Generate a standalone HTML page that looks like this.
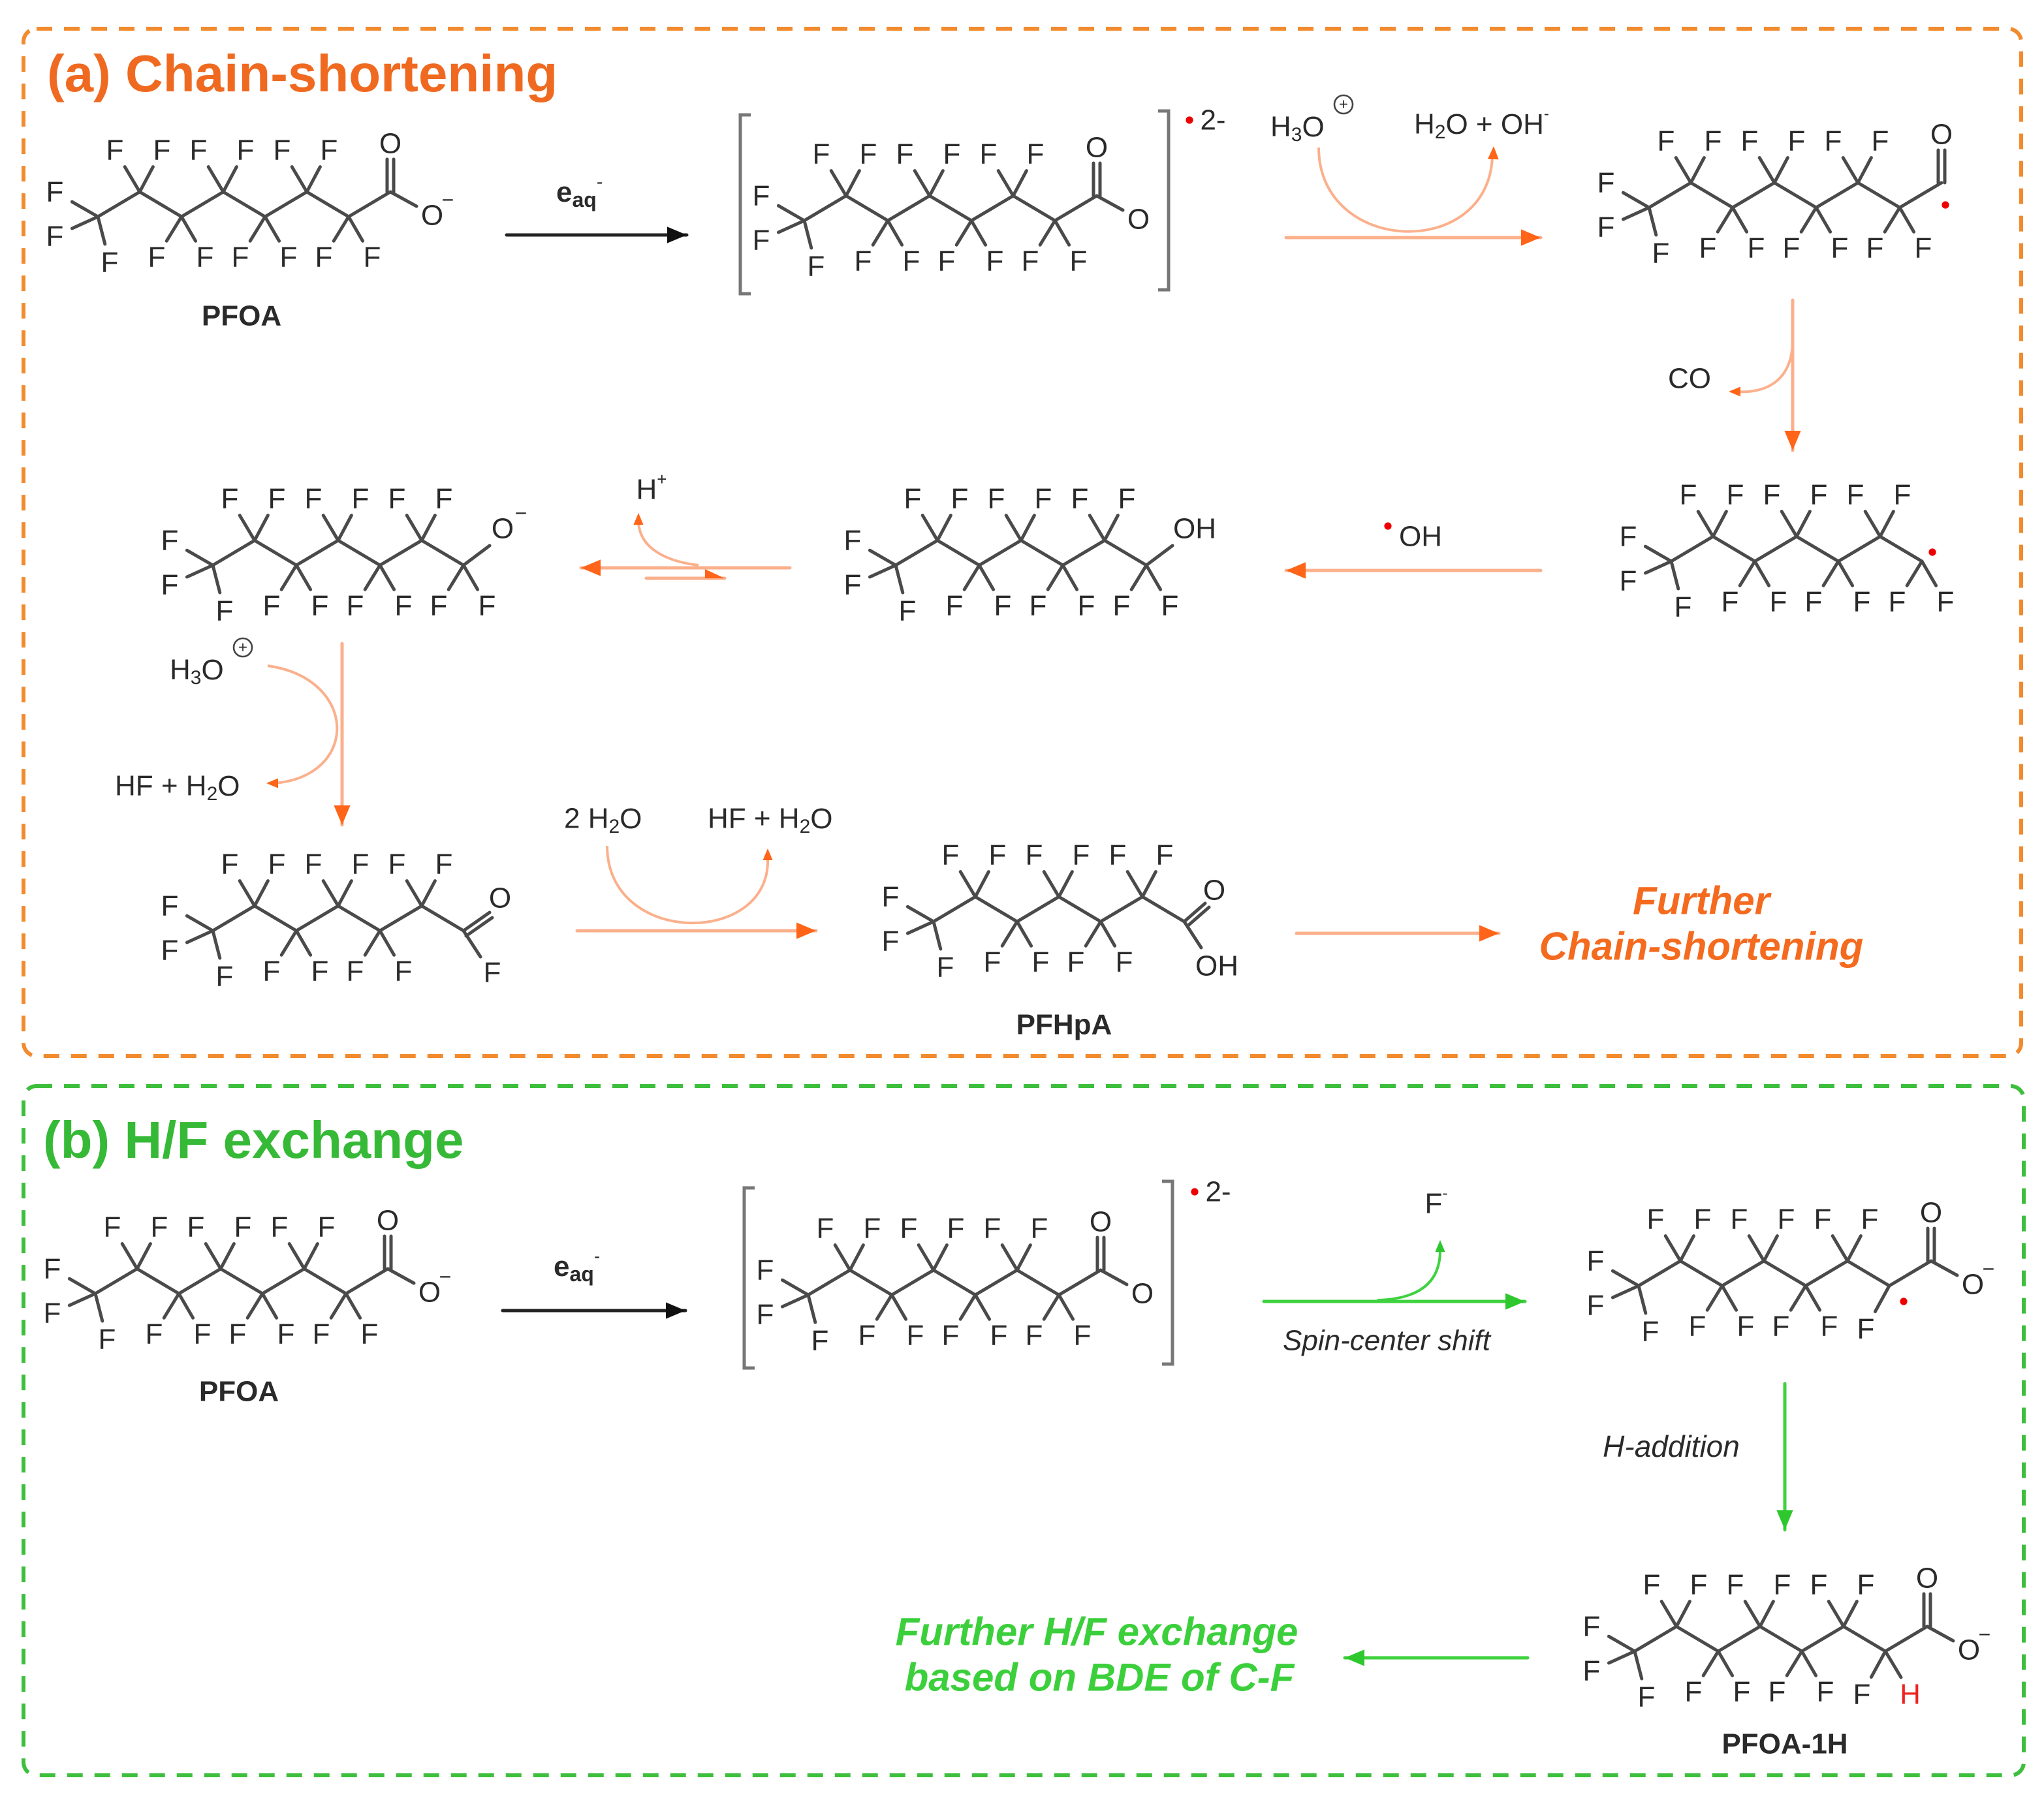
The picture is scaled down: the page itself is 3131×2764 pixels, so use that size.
<!DOCTYPE html>
<html><head><meta charset="utf-8">
<style>
html,body{margin:0;padding:0;background:#fff;}
svg{display:block;}
text{font-family:"Liberation Sans",sans-serif;}
</style></head>
<body>
<svg id="s" xmlns="http://www.w3.org/2000/svg" width="3131" height="2764" viewBox="0 0 1565.5 1382">
<rect width="1565.5" height="1382" fill="#fff"/>
<rect x="18" y="22" width="1530" height="787" rx="10" fill="none" stroke="#f28a2e" stroke-width="3" stroke-dasharray="12,9"/>
<rect x="18" y="832" width="1532" height="528" rx="10" fill="none" stroke="#3dbf3d" stroke-width="3" stroke-dasharray="12,9"/>
<text x="36" y="70" font-size="40" font-weight="bold" fill="#ef6a20">(a) Chain-shortening</text>
<text x="33" y="887" font-size="40" font-weight="bold" fill="#36b936">(b) H/F exchange</text>
</svg>
<script>
var S=document.getElementById('s'),NS='http://www.w3.org/2000/svg';
var BC='#4a4a4a',TC='#2a2a2a';
function el(t,a,txt){var e=document.createElementNS(NS,t);for(var k in a)e.setAttribute(k,a[k]);if(txt!==undefined)e.textContent=txt;S.appendChild(e);return e;}
function ln(x1,y1,x2,y2,c,w){el('line',{x1:x1,y1:y1,x2:x2,y2:y2,stroke:c||BC,'stroke-width':w||2.5,'stroke-linecap':'round'});}
function tx(x,y,s,o){o=o||{};var e=el('text',{x:x,y:y,'font-size':o.fs||22,fill:o.c||TC,'text-anchor':o.a||'middle','dominant-baseline':'central','font-weight':o.b?'bold':'normal','font-style':o.i?'italic':'normal'});e.innerHTML=s;return e;}
function lab(cx,cy,dx,dy,s,c){ln(cx,cy,cx+dx*0.6,cy+dy*0.6);tx(cx+dx,cy+dy,s||'F',{c:c});}
function chain(ax,ay,n){var c=[];for(var i=0;i<=n;i++){c.push([ax+32*i,i%2?ay-19:ay]);}
 for(i=0;i<n;i++)ln(c[i][0],c[i][1],c[i+1][0],c[i+1][1]);
 lab(c[0][0],c[0][1],-33,-19);lab(c[0][0],c[0][1],-33,15);lab(c[0][0],c[0][1],9,35);
 for(i=1;i<=n;i++){if(i%2){lab(c[i][0],c[i][1],-19,-32);lab(c[i][0],c[i][1],17,-32);}else{lab(c[i][0],c[i][1],-19,31);lab(c[i][0],c[i][1],18,31);}}
 return c;}
function carbox(p,q,minus){
 ln(p[0],p[1],q[0],q[1]);
 ln(q[0]-2.5,q[1],q[0]-2.5,q[1]-25);ln(q[0]+2.5,q[1],q[0]+2.5,q[1]-25);
 tx(q[0],q[1]-37,'O');
 ln(q[0],q[1],q[0]+20,q[1]+11);tx(q[0]+32,q[1]+18,'O');
 if(minus)tx(q[0]+44,q[1]+6,'−',{fs:16});}
function dot(x,y){el('circle',{cx:x,cy:y,r:2.8,fill:'#e00'});}
function head(x,y,ang,c,sz){sz=sz||15;var a=ang*Math.PI/180,w=sz*0.42;
 var bx=x-sz*Math.cos(a),by=y-sz*Math.sin(a),px=-Math.sin(a)*w,py=Math.cos(a)*w;
 el('polygon',{points:x+','+y+' '+(bx+px)+','+(by+py)+' '+(bx-px)+','+(by-py),fill:c});}
function arr(x1,y1,x2,y2,lc,hc,w){ln(x1,y1,x2,y2,lc,w||2.5);head(x2,y2,Math.atan2(y2-y1,x2-x1)*180/Math.PI,hc);}
function path(d,c,w){el('path',{d:d,fill:'none',stroke:c,'stroke-width':w||2.2});}
var OL='#fbb08c',OH='#ff6418',GL='#3fd23f',GH='#2ec82e';

var c=chain(75,166,6);carbox(c[6],[c[6][0]+32,147],true);tx(185,242,'PFOA',{b:1});
c=chain(616,169,6);carbox(c[6],[c[6][0]+32,150],false);
path('M575,88 L567,88 L567,225 L575,225','#777',2.5);path('M887,85 L895,85 L895,222 L887,222','#777',2.5);
dot(911,92);tx(929,92,'2-',{fs:22});
c=chain(1263,159,6);var q=[c[6][0]+32,140];ln(c[6][0],c[6][1],q[0],q[1]);
ln(q[0]-2.5,q[1],q[0]-2.5,q[1]-25);ln(q[0]+2.5,q[1],q[0]+2.5,q[1]-25);tx(q[0],q[1]-37,'O');dot(1490,157);
c=chain(1280,430,6);dot(1480,423);
c=chain(163,433,6);ln(c[6][0],c[6][1],c[6][0]+20,c[6][1]-15);tx(385,405,'O');tx(399,393,'−',{fs:16});
c=chain(686,433,6);ln(c[6][0],c[6][1],c[6][0]+20,c[6][1]-15);tx(915,405,'OH');
c=chain(163,713,5);var p=[c[5][0]+32,713];ln(c[5][0],c[5][1],p[0],p[1]);
ln(p[0],p[1],p[0]+20,p[1]-14);ln(p[0]+2,p[1]+4,p[0]+22,p[1]-10);tx(383,688,'O');
ln(p[0],p[1],p[0]+13,p[1]+20);tx(377,745,'F');
c=chain(715,706,5);p=[c[5][0]+32,706];ln(c[5][0],c[5][1],p[0],p[1]);
ln(p[0],p[1],p[0]+16,p[1]-14);ln(p[0]+3,p[1]+3,p[0]+19,p[1]-11);tx(930,682,'O');
ln(p[0],p[1],p[0]+13,p[1]+20);tx(932,740,'OH');tx(815,785,'PFHpA',{b:1});
c=chain(73,991,6);carbox(c[6],[c[6][0]+32,972],true);tx(183,1066,'PFOA',{b:1});
c=chain(619,992,6);carbox(c[6],[c[6][0]+32,973],false);
path('M578,910 L570,910 L570,1048 L578,1048','#777',2.5);path('M890,905 L898,905 L898,1045 L890,1045','#777',2.5);
dot(915,913);tx(933,913,'2-',{fs:22});
c=chain(1255,985,5);p=[c[5][0]+32,985];ln(c[5][0],c[5][1],p[0],p[1]);lab(p[0],p[1],-18,33);dot(1458,997);
carbox(p,[p[0]+32,966],true);
c=chain(1252,1265,5);p=[c[5][0]+32,1265];ln(c[5][0],c[5][1],p[0],p[1]);lab(p[0],p[1],-18,33);
ln(p[0],p[1],p[0]+12,p[1]+20);tx(1463,1298,'H',{c:'#e22'});
carbox(p,[p[0]+32,1246],true);tx(1367,1336,'PFOA-1H',{b:1});

arr(388,180,526,180,'#222','#111');tx(426,147,'<tspan font-weight="bold">e</tspan><tspan font-size="16" font-weight="bold" dy="6">aq</tspan><tspan font-size="14" dy="-14">-</tspan>',{a:'start'});
arr(985,182,1180,182,OL,OH);path('M1010,113 C1010,195 1140,200 1143,120',OL,2);head(1144,112,-88,OH,10);
tx(973,97,'H<tspan font-size="15" dy="6">3</tspan><tspan dy="-6">O</tspan>',{a:'start'});
el('circle',{cx:1029,cy:80,r:7,fill:'none',stroke:'#444','stroke-width':1.3});tx(1029,80,'+',{fs:12});
tx(1083,95,'H<tspan font-size="15" dy="6">2</tspan><tspan dy="-6">O + OH</tspan><tspan font-size="12" dy="-8">-</tspan>',{a:'start'});
arr(1373,230,1373,345,OL,OH);path('M1373,260 C1373,290 1355,302 1328,300',OL,2);head(1324,300,180,OH,9);tx(1294,290,'CO');
arr(1180,437,985,437,OL,OH);dot(1063,403);tx(1088,411,'OH');
arr(605,435,445,435,OL,OH);ln(495,443,555,443,OL,2.5);el('polygon',{points:'555,443 540,436 540,443',fill:OH});
path('M535,433 C510,430 490,420 489,400',OL,2);head(489,393,-90,OH,9);tx(499,375,'H<tspan font-size="13" dy="-8">+</tspan>');
arr(262,493,262,632,OL,OH);path('M205,510 C275,520 275,595 210,600',OL,2);head(204,600,180,OH,9);
tx(130,513,'H<tspan font-size="15" dy="6">3</tspan><tspan dy="-6">O</tspan>',{a:'start'});
el('circle',{cx:186,cy:496,r:7,fill:'none',stroke:'#444','stroke-width':1.3});tx(186,496,'+',{fs:12});
tx(88,602,'HF + H<tspan font-size="15" dy="6">2</tspan><tspan dy="-6">O</tspan>',{a:'start'});
arr(442,713,625,713,OL,OH);path('M465,648 C465,725 590,725 588,658',OL,2);head(588,650,-90,OH,9);
tx(432,627,'2 H<tspan font-size="15" dy="6">2</tspan><tspan dy="-6">O</tspan>',{a:'start'});
tx(542,627,'HF + H<tspan font-size="15" dy="6">2</tspan><tspan dy="-6">O</tspan>',{a:'start'});
arr(993,715,1148,715,OL,OH);
tx(1303,690,'Further',{fs:30,b:1,i:1,c:'#f46a1e'});tx(1303,725,'Chain-shortening',{fs:30,b:1,i:1,c:'#f46a1e'});
arr(385,1004,525,1004,'#222','#111');tx(424,970,'<tspan font-weight="bold">e</tspan><tspan font-size="16" font-weight="bold" dy="6">aq</tspan><tspan font-size="14" dy="-14">-</tspan>',{a:'start'});
arr(968,997,1168,997,GL,GH);path('M1055,996 C1090,995 1103,980 1103,958',GL,2);head(1103,950,-90,GH,9);
tx(1100,922,'F<tspan font-size="12" dy="-8">-</tspan>');tx(1062,1027,'Spin-center shift',{i:1,fs:22});
arr(1367,1060,1367,1172,GL,GH);tx(1280,1108,'H-addition',{i:1,fs:23});
arr(1170,1270,1030,1270,GL,GH);
tx(840,1250,'Further H/F exchange',{fs:30,b:1,i:1,c:'#3ccf3c'});tx(842,1285,'based on BDE of C-F',{fs:30,b:1,i:1,c:'#3ccf3c'});
</script>
</body></html>
